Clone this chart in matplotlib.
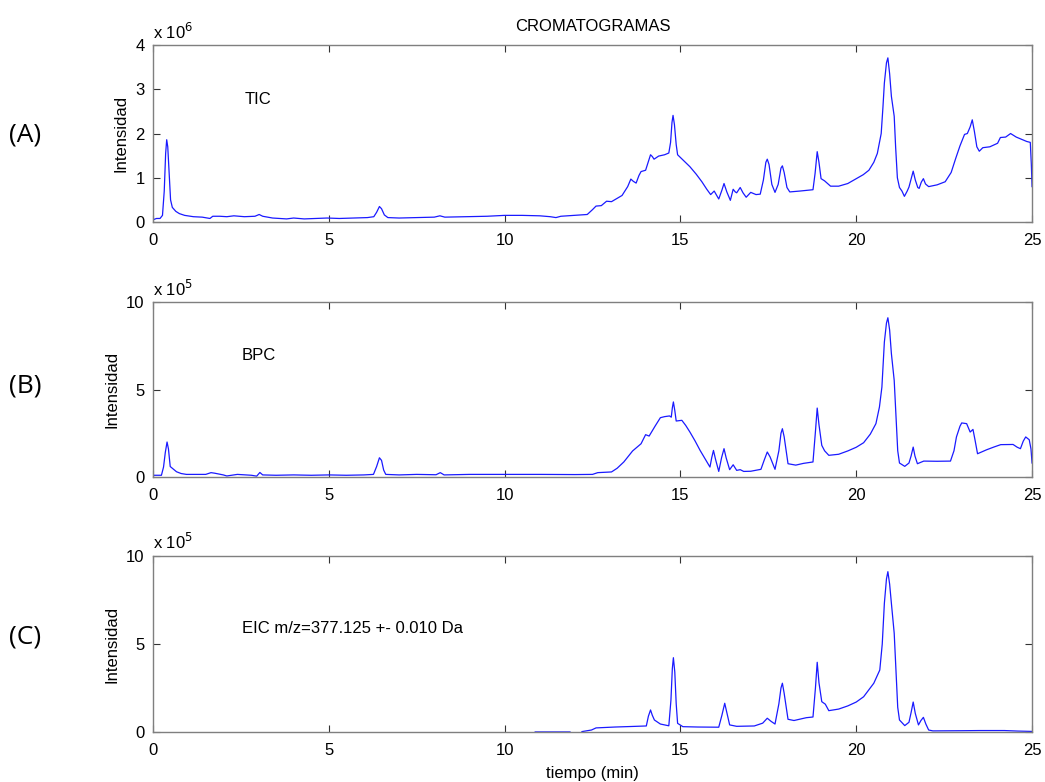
import numpy as np
import matplotlib
matplotlib.use("Agg")
import matplotlib.pyplot as plt
from matplotlib.ticker import FuncFormatter

# TIC trace: time (min), intensity (x 1e6)
tic_time = [0.00, 0.10, 0.20, 0.27, 0.32, 0.36, 0.39, 0.42, 0.46, 0.50, 0.55, 0.65, 0.75, 0.90,
            1.15, 1.40, 1.55, 1.62, 1.70, 1.90, 2.10, 2.30, 2.60, 2.90, 3.02, 3.12, 3.40, 3.80,
            4.00, 4.30, 4.60, 4.95, 5.30, 5.70, 6.10, 6.28, 6.36, 6.44, 6.50, 6.58, 6.68, 7.00,
            7.50, 8.00, 8.16, 8.30, 8.90, 9.50, 10.00, 10.50, 11.00, 11.30, 11.46, 11.60, 12.00,
            12.35, 12.50, 12.60, 12.75, 12.90, 13.04, 13.34, 13.50, 13.59, 13.66, 13.74, 13.82,
            13.88, 14.01, 14.10, 14.15, 14.20, 14.25, 14.38, 14.55, 14.67, 14.72, 14.76, 14.79,
            14.83, 14.88, 14.92, 15.05, 15.27, 15.45, 15.61, 15.75, 15.86, 15.96, 16.09, 16.18,
            16.24, 16.32, 16.42, 16.50, 16.56, 16.60, 16.70, 16.78, 16.87, 17.00, 17.15, 17.27,
            17.36, 17.43, 17.47, 17.52, 17.60, 17.69, 17.78, 17.86, 17.90, 17.95, 18.03, 18.11,
            18.40, 18.77, 18.83, 18.89, 18.94, 19.00, 19.10, 19.27, 19.50, 19.76, 20.00, 20.20,
            20.36, 20.50, 20.60, 20.71, 20.76, 20.80, 20.86, 20.90, 20.95, 21.00, 21.08, 21.12,
            21.17, 21.23, 21.30, 21.37, 21.45, 21.50, 21.57, 21.62, 21.68, 21.75, 21.79, 21.85,
            21.91, 21.97, 22.06, 22.30, 22.53, 22.70, 22.83, 22.95, 23.08, 23.16, 23.24, 23.30,
            23.36, 23.43, 23.50, 23.60, 23.80, 24.02, 24.10, 24.25, 24.39, 24.55, 24.70, 24.85,
            24.95, 24.98, 25.00]
tic_value = [0.05, 0.08, 0.08, 0.15, 0.70, 1.55, 1.86, 1.70, 1.10, 0.50, 0.33, 0.24, 0.19, 0.15,
             0.12, 0.11, 0.09, 0.08, 0.13, 0.13, 0.12, 0.14, 0.12, 0.13, 0.17, 0.13, 0.09, 0.07,
             0.09, 0.07, 0.08, 0.09, 0.08, 0.09, 0.10, 0.12, 0.22, 0.35, 0.30, 0.16, 0.10, 0.09,
             0.10, 0.11, 0.14, 0.11, 0.12, 0.13, 0.15, 0.15, 0.14, 0.12, 0.10, 0.13, 0.15,
             0.17, 0.28, 0.36, 0.37, 0.47, 0.46, 0.60, 0.80, 0.97, 0.92, 0.88, 1.05,
             1.14, 1.17, 1.40, 1.52, 1.48, 1.42, 1.49, 1.52, 1.56, 1.80, 2.25, 2.41,
             2.20, 1.75, 1.52, 1.42, 1.25, 1.08, 0.91, 0.74, 0.62, 0.70, 0.52, 0.72,
             0.87, 0.68, 0.49, 0.74, 0.68, 0.66, 0.78, 0.66, 0.56, 0.67, 0.62, 0.63,
             0.95, 1.35, 1.42, 1.30, 0.85, 0.67, 0.85, 1.22, 1.27, 1.12, 0.78, 0.68,
             0.70, 0.73, 1.10, 1.59, 1.35, 0.98, 0.93, 0.81, 0.81, 0.87, 0.98, 1.07,
             1.17, 1.35, 1.55, 2.00, 2.60, 3.14, 3.60, 3.71, 3.35, 2.84, 2.39, 1.70,
             1.00, 0.78, 0.70, 0.58, 0.70, 0.79, 1.00, 1.15, 0.95, 0.78, 0.76, 0.90,
             0.98, 0.86, 0.80, 0.84, 0.91, 1.12, 1.44, 1.72, 1.98, 2.00, 2.15, 2.31,
             2.05, 1.70, 1.60, 1.68, 1.70, 1.78, 1.91, 1.92, 2.00, 1.92, 1.87, 1.82,
             1.80, 1.30, 0.80]

# BPC trace: time (min), intensity (x 1e5)
bpc_time = [0.00, 0.24, 0.30, 0.35, 0.40, 0.44, 0.49, 0.58, 0.67, 0.80, 0.95, 1.50, 1.65, 1.75,
            2.00, 2.10, 2.40, 2.80, 2.95, 3.04, 3.12, 3.50, 4.00, 4.50, 5.00, 5.50, 6.00, 6.27,
            6.36, 6.44, 6.50, 6.56, 6.62, 7.00, 7.50, 8.05, 8.17, 8.28, 9.00, 10.00, 11.00,
            12.00, 12.50, 12.65, 13.04, 13.20, 13.39, 13.64, 13.88, 14.01, 14.11, 14.28, 14.43,
            14.55, 14.69, 14.74, 14.77, 14.80, 14.84, 14.88, 15.04, 15.15, 15.27, 15.42, 15.56,
            15.70, 15.84, 15.89, 15.94, 16.00, 16.09, 16.17, 16.24, 16.30, 16.40, 16.50, 16.60,
            16.70, 16.80, 17.00, 17.29, 17.38, 17.47, 17.55, 17.69, 17.80, 17.86, 17.90, 17.95,
            18.06, 18.28, 18.50, 18.77, 18.84, 18.89, 18.94, 19.02, 19.10, 19.22, 19.50, 19.76,
            20.00, 20.21, 20.40, 20.56, 20.66, 20.73, 20.80, 20.86, 20.90, 20.95, 21.00, 21.08,
            21.13, 21.18, 21.23, 21.38, 21.50, 21.56, 21.62, 21.67, 21.74, 21.92, 22.30, 22.68,
            22.78, 22.85, 22.95, 23.00, 23.14, 23.24, 23.32, 23.38, 23.45, 23.70, 23.91, 24.11,
            24.46, 24.58, 24.67, 24.75, 24.82, 24.92, 24.97, 25.00]
bpc_value = [0.10, 0.10, 0.57, 1.40, 2.00, 1.60, 0.60, 0.45, 0.30, 0.20, 0.15, 0.15, 0.25, 0.22,
             0.12, 0.06, 0.15, 0.10, 0.05, 0.26, 0.12, 0.10, 0.12, 0.10, 0.12, 0.10, 0.12, 0.15,
             0.60, 1.10, 0.95, 0.40, 0.15, 0.12, 0.15, 0.13, 0.25, 0.12, 0.15, 0.15, 0.15,
             0.14, 0.15, 0.25, 0.29, 0.50, 0.86, 1.49, 1.90, 2.42, 2.34, 2.91, 3.39,
             3.45, 3.49, 3.42, 3.95, 4.29, 3.80, 3.20, 3.24, 2.95, 2.57, 2.05, 1.52,
             1.05, 0.57, 1.10, 1.52, 1.00, 0.32, 1.10, 1.62, 1.10, 0.42, 0.70, 0.38,
             0.42, 0.32, 0.33, 0.44, 0.95, 1.43, 1.15, 0.44, 1.50, 2.50, 2.76, 2.30,
             0.76, 0.68, 0.78, 0.86, 2.60, 3.94, 3.00, 1.81, 1.50, 1.24, 1.30, 1.49,
             1.70, 1.96, 2.45, 3.05, 4.00, 5.14, 7.71, 8.80, 9.10, 8.40, 7.05, 5.52,
             3.50, 1.50, 0.80, 0.61, 0.80, 1.20, 1.71, 1.20, 0.76, 0.91, 0.90, 0.91,
             1.50, 2.29, 2.90, 3.09, 3.05, 2.57, 2.72, 2.10, 1.33, 1.55, 1.71, 1.85,
             1.86, 1.70, 1.62, 2.05, 2.29, 2.13, 1.60, 0.80]

# EIC trace (m/z 377.125): time (min), intensity (x 1e5); nan marks the gap in the trace
eic_time = [10.87, 11.86, np.nan, 12.20, 12.47, 12.60, 13.14, 13.60, 14.03, 14.09, 14.15, 14.20,
            14.26, 14.43, 14.67, 14.73, 14.77, 14.80, 14.84, 14.88, 14.92, 15.07, 15.50, 16.09,
            16.18, 16.26, 16.32, 16.40, 16.60, 17.10, 17.34, 17.47, 17.58, 17.69, 17.80, 17.86,
            17.90, 17.95, 18.06, 18.23, 18.58, 18.77, 18.84, 18.89, 18.94, 19.02, 19.12, 19.22,
            19.50, 19.76, 20.00, 20.21, 20.50, 20.67, 20.74, 20.80, 20.86, 20.90, 20.95, 21.00,
            21.08, 21.13, 21.18, 21.23, 21.38, 21.50, 21.56, 21.62, 21.68, 21.77, 21.84, 21.91,
            21.98, 22.06, 22.18, 23.00, 23.52, 24.21, 24.60, 25.00]
eic_value = [0.00, 0.00, np.nan, 0.02, 0.11, 0.23, 0.28, 0.31, 0.34, 0.90, 1.25, 0.95,
             0.68, 0.45, 0.35, 1.80, 3.60, 4.22, 3.40, 1.60, 0.49, 0.30, 0.28, 0.27,
             0.95, 1.63, 1.10, 0.40, 0.32, 0.34, 0.50, 0.78, 0.60, 0.45, 1.60, 2.50,
             2.77, 2.20, 0.72, 0.65, 0.81, 0.85, 2.50, 3.96, 2.80, 1.72, 1.58, 1.21,
             1.30, 1.48, 1.70, 2.00, 2.77, 3.52, 5.00, 7.31, 8.70, 9.11, 8.40, 7.31,
             5.61, 3.50, 1.40, 0.68, 0.36, 0.55, 1.10, 1.70, 1.05, 0.40, 0.65, 0.83,
             0.45, 0.11, 0.06, 0.07, 0.08, 0.08, 0.05, 0.03]

panel_letters = ["(A)", "(B)", "(C)"]
panel_names = ["TIC", "BPC", "EIC m/z=377.125 +- 0.010 Da"]
x_ticks = [0, 5, 10, 15, 20, 25]

traces = [
    (tic_time, np.array(tic_value) * 1e6, 6, [0, 1, 2, 3, 4], 4e6),
    (bpc_time, np.array(bpc_value) * 1e5, 5, [0, 5, 10], 1e6),
    (eic_time, np.array(eic_value) * 1e5, 5, [0, 5, 10], 1e6),
]

# axes boxes in figure fractions [left, bottom, width, height]
boxes = [
    [0.1464, 0.7161, 0.8412, 0.2263],
    [0.1464, 0.3900, 0.8412, 0.2238],
    [0.1464, 0.0640, 0.8412, 0.2250],
]
label_pos = [(2.62, 2.76e6), (2.53, 6.97e5), (2.53, 5.9e5)]
letter_y = [0.828, 0.507, 0.186]

plt.rcParams["font.family"] = ["Liberation Sans", "DejaVu Sans"]
fig = plt.figure(figsize=(10.45, 7.82), dpi=100)
edge = "#7f7f7f"

for i, (t, y, exp, yt, ymax) in enumerate(traces):
    ax = fig.add_axes(boxes[i])
    ax.plot(t, y, color="#1a1aff", linewidth=0.9)
    ax.set_xlim(0, 25)
    ax.set_ylim(0, ymax)
    ax.set_xticks(x_ticks)
    ax.set_yticks([v * 10 ** exp for v in yt])
    ax.yaxis.set_major_formatter(FuncFormatter(lambda v, p, e=exp: f"{v / 10 ** e:g}"))
    ax.tick_params(direction="in", top=True, right=True, length=5, width=0.8,
                   color="#333333", labelsize=12, pad=6)
    ax.tick_params(axis="x", pad=8)
    for s in ax.spines.values():
        s.set_color(edge)
        s.set_linewidth(1.0)
    ax.set_ylabel("Intensidad", fontsize=12, labelpad=5)
    ax.text(0.0, 1.02, f"x 10$^{{{exp}}}$", transform=ax.transAxes, fontsize=12,
            ha="left", va="bottom")
    ax.text(label_pos[i][0], label_pos[i][1], panel_names[i], fontsize=12,
            ha="left", va="center")
    fig.text(0.009, letter_y[i], panel_letters[i], fontsize=19,
             family=["Open Sans", "DejaVu Sans"], ha="left", va="center")
    if i == 0:
        ax.set_title("CROMATOGRAMAS", fontsize=12, pad=10)
    if i == 2:
        ax.set_xlabel("tiempo (min)", fontsize=12, labelpad=6)

fig.savefig("out.png", dpi=100)
